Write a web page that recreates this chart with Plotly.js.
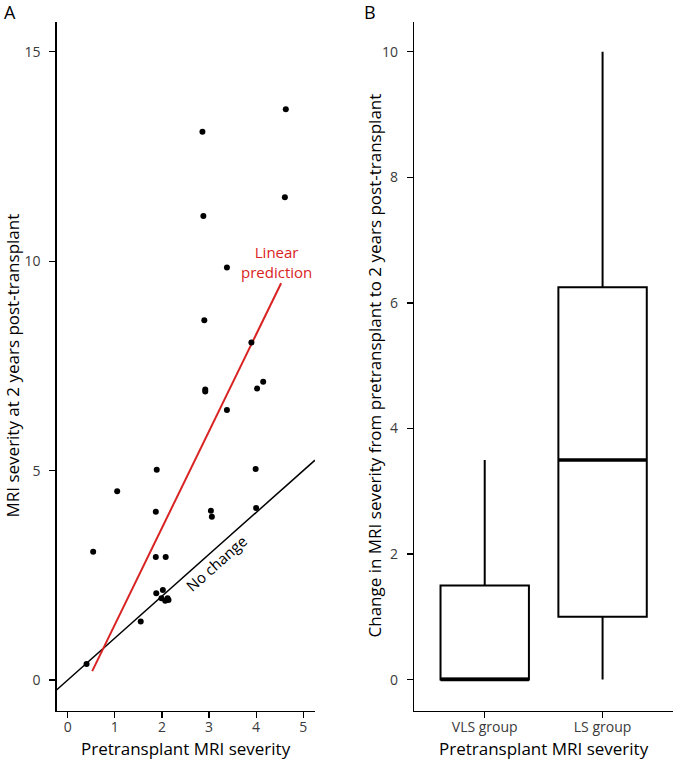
<!DOCTYPE html>
<html>
<head>
<meta charset="utf-8">
<script src="https://cdn.plot.ly/plotly-3.0.1.min.js"></script>
<style>html,body{margin:0;padding:0;background:#fff;}#chart{width:675px;height:760px;}</style>
</head>
<body>
<div id="chart"></div>
<script>
// Panel A: pretransplant vs 2-year MRI severity
const preSeverity = [2.86, 4.63, 4.61, 2.88, 3.38, 2.90, 3.90, 2.92, 2.92, 4.02, 4.15, 3.38, 1.89, 3.99, 1.05,
                     1.87, 3.04, 3.06, 4.00, 0.54, 1.87, 2.08, 1.88, 2.02, 1.99, 2.07, 2.12, 2.14, 1.55, 0.40];
const postSeverity = [13.09, 13.63, 11.53, 11.08, 9.85, 8.59, 8.06, 6.94, 6.89, 6.96, 7.12, 6.45, 5.02, 5.04, 4.51,
                      4.02, 4.04, 3.90, 4.11, 3.06, 2.94, 2.94, 2.07, 2.15, 1.95, 1.89, 1.95, 1.91, 1.40, 0.38];
// Linear prediction
const fitSlope = 2.31;
const fitIntercept = -0.99;
const fitXRange = [0.52, 4.53];
// No-change identity line extent
const identityXRange = [-0.25, 5.25];
const xTicksA = [0, 1, 2, 3, 4, 5];
const yTicksA = [0, 5, 10, 15];

// Panel B: change in severity by group (box summary)
const groups = ["VLS group", "LS group"];
const groupPos = [1, 2];
const lowerFence = [0, 0];
const q1 = [0, 1.0];
const median = [0, 3.5];
const q3 = [1.5, 6.25];
const upperFence = [3.5, 10];
const yTicksB = [0, 2, 4, 6, 8, 10];

// Text labels
const titleA_x = "Pretransplant MRI severity";
const titleA_y = "MRI severity at 2 years post-transplant";
const titleB_x = "Pretransplant MRI severity";
const titleB_y = "Change in MRI severity from pretransplant to 2 years post-transplant";

const FONT = "Open Sans, Noto Sans, sans-serif";
const RED = "#d92323";
const boxWidth = 0.75;

const traces = [];
traces.push({
  x: identityXRange, y: identityXRange.map(v => v),
  mode: "lines", line: {color: "#000", width: 1.5}, xaxis: "x", yaxis: "y", hoverinfo: "skip"
});
traces.push({
  x: fitXRange, y: fitXRange.map(v => fitSlope * v + fitIntercept),
  mode: "lines", line: {color: RED, width: 2}, xaxis: "x", yaxis: "y", hoverinfo: "skip"
});
traces.push({
  x: preSeverity, y: postSeverity, mode: "markers",
  marker: {color: "#000", size: 6}, xaxis: "x", yaxis: "y"
});
traces.push({
  type: "box", x: groupPos, q1: q1, median: median, q3: q3,
  lowerfence: lowerFence, upperfence: upperFence,
  width: boxWidth, whiskerwidth: 0, fillcolor: "#fff",
  line: {color: "#000", width: 2}, xaxis: "x2", yaxis: "y2", boxpoints: false
});
// thick median bars
groupPos.forEach((p, i) => {
  traces.push({
    x: [p - boxWidth / 2, p + boxWidth / 2], y: [median[i], median[i]],
    mode: "lines", line: {color: "#000", width: 3.5}, xaxis: "x2", yaxis: "y2", hoverinfo: "skip"
  });
});

const axisCommon = {
  showgrid: false, zeroline: false, showline: true, linecolor: "#000", linewidth: 1.3,
  ticks: "outside", ticklen: 6, tickwidth: 1.2, tickcolor: "#000",
  tickfont: {family: FONT, size: 14, color: "#3a3a3a"}, automargin: false
};
const xAxisCommon = Object.assign({}, axisCommon, {ticklabelstandoff: -3});
const yAxisCommon = Object.assign({}, axisCommon, {ticklabelstandoff: 6});
const titleFont = {family: FONT, size: 17, color: "#000"};

const layout = {
  width: 675, height: 760, margin: {l: 0, r: 0, t: 0, b: 0},
  paper_bgcolor: "#fff", plot_bgcolor: "#fff", showlegend: false,
  font: {family: FONT},
  xaxis: Object.assign({}, xAxisCommon, {
    domain: [56.7 / 675, 315 / 675], range: [-0.234, 5.25], tickvals: xTicksA
  }),
  yaxis: Object.assign({}, yAxisCommon, {
    domain: [1 - 710.7 / 760, 1 - 21.7 / 760], range: [-0.733, 15.72], tickvals: yTicksA
  }),
  xaxis2: Object.assign({}, xAxisCommon, {
    domain: [414 / 675, 673.3 / 675], range: [0.4, 2.6], tickvals: groupPos, ticktext: groups, anchor: "y2"
  }),
  yaxis2: Object.assign({}, yAxisCommon, {
    domain: [1 - 711 / 760, 1 - 21.7 / 760], range: [-0.5, 10.48], tickvals: yTicksB, anchor: "x2"
  }),
  annotations: [
    {text: "A", xref: "paper", yref: "paper", x: 9.5 / 675, y: 1 - 12 / 760, xanchor: "center", yanchor: "middle",
     showarrow: false, font: {family: FONT, size: 18, color: "#000"}},
    {text: "B", xref: "paper", yref: "paper", x: 370 / 675, y: 1 - 12 / 760, xanchor: "center", yanchor: "middle",
     showarrow: false, font: {family: FONT, size: 18, color: "#000"}},
    {text: titleA_x, xref: "paper", yref: "paper", x: 186 / 675, y: 1 - 748 / 760, xanchor: "center", yanchor: "middle",
     showarrow: false, font: titleFont},
    {text: titleB_x, xref: "paper", yref: "paper", x: 543.5 / 675, y: 1 - 748 / 760, xanchor: "center", yanchor: "middle",
     showarrow: false, font: titleFont},
    {text: titleA_y, xref: "paper", yref: "paper", x: 11.5 / 675, y: 1 - 366 / 760, xanchor: "center", yanchor: "middle",
     textangle: -90, showarrow: false, font: titleFont},
    {text: titleB_y, xref: "paper", yref: "paper", x: 373.5 / 675, y: 1 - 366 / 760, xanchor: "center", yanchor: "middle",
     textangle: -90, showarrow: false, font: titleFont},
    {text: "Linear<br>prediction", xref: "x", yref: "y", x: 4.44, y: 9.99, xanchor: "center", yanchor: "middle",
     showarrow: false, font: {family: FONT, size: 15, color: RED}},
    {text: "No change", xref: "x", yref: "y", x: 3.16, y: 2.79, xanchor: "center", yanchor: "middle",
     textangle: -41.6, showarrow: false, font: {family: FONT, size: 15, color: "#000"}}
  ]
};

Plotly.newPlot("chart", traces, layout, {staticPlot: true, displayModeBar: false});
</script>
</body>
</html>
